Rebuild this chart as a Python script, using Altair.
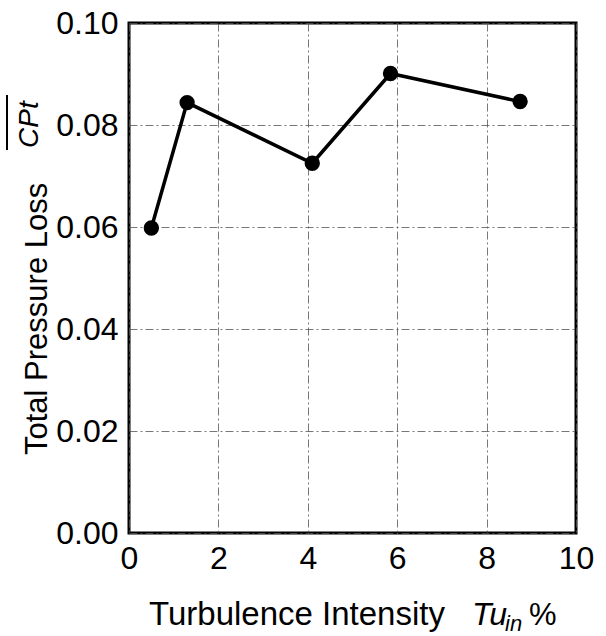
import altair as alt
import pandas as pd

# Turbulence intensity (%) and the mean total pressure loss coefficient
tu_in = [0.5, 1.3, 4.1, 5.85, 8.75]
cpt_mean = [0.0598, 0.0844, 0.0725, 0.0901, 0.0846]

x_ticks = [0, 2, 4, 6, 8, 10]
y_ticks = [0.0, 0.02, 0.04, 0.06, 0.08, 0.10]

FONT = "Liberation Sans"
W, H = 447, 510

df = pd.DataFrame({"tu": tu_in, "cpt": cpt_mean})

x_enc = alt.X(
    "tu:Q",
    scale=alt.Scale(domain=[0, 10], nice=False),
    axis=alt.Axis(values=x_ticks, format="d", title=None, ticks=False, domain=False,
                  labelFontSize=32, labelPadding=10, labelFont=FONT, labelColor="black",
                  gridColor="#555555", gridWidth=0.8, gridDash=[8, 3, 2, 3],
                  labelFlush=False),
)
y_enc = alt.Y(
    "cpt:Q",
    scale=alt.Scale(domain=[0, 0.1], nice=False),
    axis=alt.Axis(values=y_ticks, format=".2f", title=None, ticks=False, domain=False,
                  labelFontSize=32, labelPadding=11, labelFont=FONT, labelColor="black",
                  gridColor="#555555", gridWidth=0.8, gridDash=[8, 3, 2, 3],
                  labelFlush=False),
)

line = alt.Chart(df).mark_line(color="black", strokeWidth=3.5).encode(x=x_enc, y=y_enc)
pts = alt.Chart(df).mark_circle(color="black", opacity=1, size=235).encode(x="tu:Q", y="cpt:Q")


def label(text, x, y, size, angle=0, italic=False, align="left"):
    return alt.Chart(pd.DataFrame({"t": [text]})).mark_text(
        font=FONT, fontSize=size, angle=angle, align=align, baseline="alphabetic",
        fontStyle="italic" if italic else "normal", color="black",
    ).encode(text="t:N", x=alt.value(x), y=alt.value(y))


# x-axis title: "Turbulence Intensity  Tu_in %"
xt1 = label("Turbulence Intensity", 20, 602, 33)
xt2 = label("Tu", 343, 602, 32, italic=True)
xt3 = label("in", 376, 608, 22, italic=True)
xt4 = label("%", 400, 602, 31)

# y-axis title: "Total Pressure Loss  CPt" with an overbar
yt1 = label("Total Pressure Loss", -82, 432, 31, angle=270)
yt2 = label("CPt", -91, 125, 28, angle=270, italic=True)
bar = alt.Chart(pd.DataFrame({"t": [0]})).mark_rule(color="black", strokeWidth=2).encode(
    x=alt.value(-122), y=alt.value(72), y2=alt.value(127)
)

chart = alt.layer(line, pts, xt1, xt2, xt3, xt4, yt1, yt2, bar).properties(
    width=W, height=H,
    autosize=alt.AutoSizeParams(type="none"),
    padding={"left": 129, "top": 23, "right": 30, "bottom": 103},
    background="white",
).configure_view(stroke="black", strokeWidth=3)

chart.save("out.html", embed_options={"renderer": "svg", "actions": False})
